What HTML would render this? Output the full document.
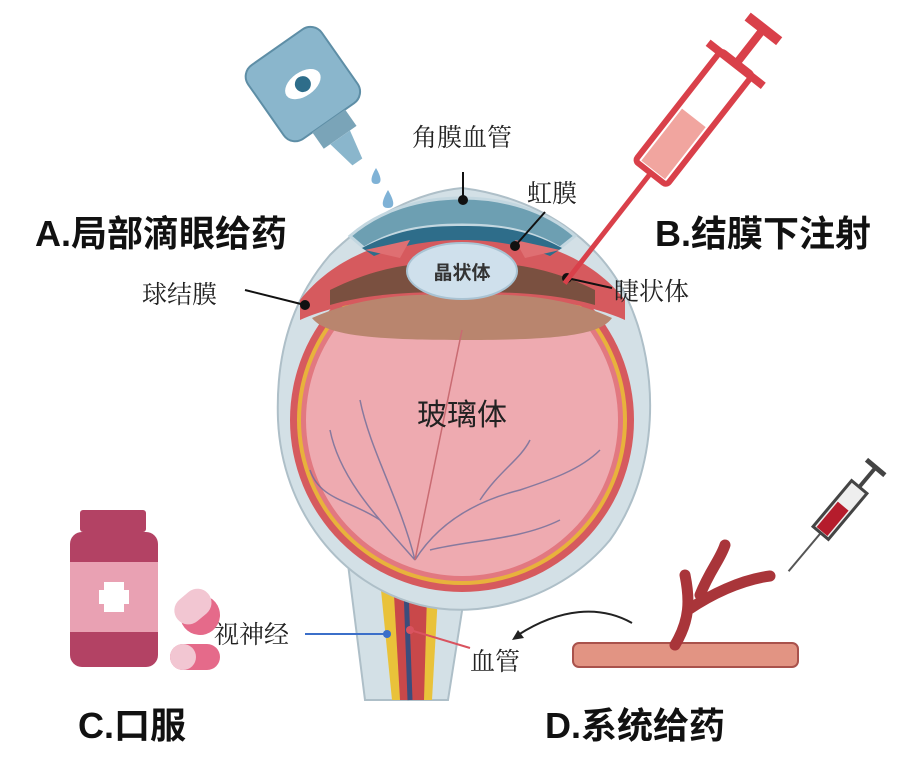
<!DOCTYPE html>
<html><head><meta charset="utf-8"><style>
html,body{margin:0;padding:0;background:#fff}
svg{display:block}
text{font-family:"Liberation Serif","Noto Serif CJK SC",serif}
.b text,text.b{font-family:"Liberation Sans","Noto Sans CJK SC",sans-serif;font-weight:bold}
</style></head><body>
<svg width="918" height="758" viewBox="0 0 918 758" xmlns="http://www.w3.org/2000/svg">
<path d="M345,540 L365,700 L448,700 L470,560 Z" fill="#d3e0e6" stroke="#aebfc8" stroke-width="2"/>
<path d="M378,560 L392,700 L432,700 L440,560 Z" fill="#e9c23a"/>
<path d="M392,560 L400,700 L424,700 L428,560 Z" fill="#c9484a"/>
<line x1="405" y1="560" x2="410" y2="700" stroke="#3c4d7c" stroke-width="5"/>
<path d="M462,188 C540,198 600,240 628,300 C660,370 660,470 610,540 C560,600 480,620 420,605 C340,585 282,510 278,420 C275,340 300,290 330,255 C370,215 420,192 462,188 Z" fill="#d3e0e6" stroke="#aebfc8" stroke-width="2"/>
<circle cx="462" cy="420" r="172" fill="#d65a5e"/>
<circle cx="462" cy="420" r="165" fill="#e8b23c"/>
<circle cx="462" cy="420" r="161" fill="#e27880"/>
<circle cx="462" cy="420" r="156" fill="#eeaab0"/>
<path d="M300,300 C340,250 400,235 462,235 C524,235 585,250 625,300 L625,320 C580,300 520,296 462,296 C404,296 345,300 300,320 Z" fill="#d65a5e"/>
<path d="M312,318 C360,296 420,292 462,296 C504,292 566,296 612,318 C600,335 560,340 462,340 C370,340 325,335 312,318Z" fill="#b9856e"/>
<path d="M330,290 C380,265 420,262 462,262 C504,262 545,265 595,290 L595,305 C550,292 500,292 462,292 C424,292 374,292 330,305Z" fill="#7a5040"/>
<path d="M350,236 C380,210 420,198 462,198 C504,198 545,210 575,236 L560,248 C530,230 500,225 462,225 C424,225 394,230 364,248Z" fill="#6d9fb2" stroke="#c3d7e0" stroke-width="3"/>
<path d="M362,248 C400,228 430,226 462,226 C494,226 526,228 562,248 L550,256 C520,244 490,240 462,240 C434,240 404,244 374,256Z" fill="#2e6d8a"/>
<path d="M365,250 L410,240 L400,258 Z M560,250 L515,240 L525,258 Z" fill="#df6f72"/>
<ellipse cx="462" cy="271" rx="55" ry="28" fill="#cfe0ec" stroke="#a9c3d3" stroke-width="2"/>
<text x="462" y="279" text-anchor="middle" class="b" font-size="19" fill="#333">晶状体</text>
<g fill="none" stroke="#6e6e9a" stroke-width="1.5" opacity="0.8">
<path d="M415,560 C380,520 340,480 330,430"/><path d="M380,520 C350,500 320,500 310,470"/>
<path d="M415,560 C440,520 480,500 520,490 C550,480 580,470 600,450"/><path d="M480,500 C500,470 520,460 530,440"/>
<path d="M415,560 C400,500 370,450 360,400"/><path d="M430,550 C470,540 520,540 560,520"/>
</g>
<line x1="462" y1="330" x2="415" y2="560" stroke="#c96b72" stroke-width="1.5"/>
<text x="462" y="425" text-anchor="middle" font-size="30" fill="#222" style="font-family:'Liberation Sans','Noto Sans CJK SC',sans-serif">玻璃体</text>
<g stroke="#111" stroke-width="2" fill="#111">
<line x1="463" y1="172" x2="463" y2="200"/><circle cx="463" cy="200" r="4"/>
<line x1="545" y1="212" x2="515" y2="246"/><circle cx="515" cy="246" r="4"/>
<line x1="612" y1="288" x2="567" y2="278"/><circle cx="567" cy="278" r="4"/>
<line x1="245" y1="290" x2="305" y2="305"/><circle cx="305" cy="305" r="4"/>
</g>
<line x1="305" y1="634" x2="387" y2="634" stroke="#3b6fc9" stroke-width="2"/><circle cx="387" cy="634" r="4" fill="#3b6fc9"/>
<line x1="410" y1="630" x2="470" y2="648" stroke="#d9535f" stroke-width="2"/><circle cx="410" cy="630" r="4" fill="#d9535f"/>
<g font-size="25" fill="#222">
<text x="412" y="146">角膜血管</text>
<text x="527" y="202">虹膜</text>
<text x="614" y="300">睫状体</text>
<text x="142" y="303">球结膜</text>
<text x="214" y="643">视神经</text>
<text x="470" y="670">血管</text>
</g>
<g class="b" font-size="36" fill="#111">
<text x="35" y="246">A.局部滴眼给药</text>
<text x="655" y="246">B.结膜下注射</text>
<text x="78" y="738">C.口服</text>
<text x="545" y="738">D.系统给药</text>
</g>
<g transform="rotate(-35 300 80)">
<rect x="255" y="40" width="90" height="90" rx="14" fill="#8ab6cc" stroke="#5e8ea6" stroke-width="2"/>
<ellipse cx="300" cy="85" rx="20" ry="12" fill="#fff"/><circle cx="300" cy="85" r="8" fill="#2e6d8a"/>
<rect x="280" y="130" width="40" height="20" fill="#7aa4b8"/>
<path d="M288,150 L312,150 L306,180 L294,180Z" fill="#8ab6cc"/>
</g>
<path d="M376,168 c-6,10 -6,16 0,16 c6,0 6,-6 0,-16z" fill="#7fb2d6"/>
<path d="M388,190 c-7,12 -7,18 0,18 c7,0 7,-6 0,-18z" fill="#7fb2d6"/>
<g transform="rotate(38 700 110)">
<line x1="700" y1="190" x2="700" y2="330" stroke="#d9404a" stroke-width="5"/>
<rect x="680" y="50" width="40" height="140" rx="4" fill="#fff" stroke="#d9404a" stroke-width="6"/>
<rect x="685" y="120" width="30" height="66" fill="#f1a59f"/>
<rect x="665" y="48" width="70" height="8" fill="#d9404a"/>
<line x1="700" y1="48" x2="700" y2="10" stroke="#d9404a" stroke-width="8"/>
<rect x="680" y="2" width="40" height="10" fill="#d9404a"/>
</g>
<g transform="rotate(40 840 510)">
<line x1="840" y1="540" x2="840" y2="590" stroke="#555" stroke-width="2"/>
<rect x="830" y="480" width="20" height="60" fill="#eee" stroke="#444" stroke-width="3"/>
<rect x="833" y="505" width="14" height="33" fill="#b51c2c"/>
<line x1="840" y1="480" x2="840" y2="455" stroke="#444" stroke-width="4"/>
<rect x="828" y="452" width="24" height="5" fill="#444"/>
</g>
<rect x="573" y="643" width="225" height="24" rx="6" fill="#e29483" stroke="#a9524c" stroke-width="2"/>
<path d="M675,645 C690,620 690,600 685,575 M688,610 C710,595 740,580 770,576 M700,595 C710,570 720,560 725,545" stroke="#a9353a" stroke-width="11" fill="none" stroke-linecap="round"/>
<path d="M632,623 C600,605 560,608 518,635" fill="none" stroke="#222" stroke-width="2"/>
<path d="M512,640 l12,-2 l-6,-8z" fill="#222"/>
<rect x="80" y="510" width="66" height="22" rx="3" fill="#b34264"/>
<rect x="70" y="532" width="88" height="135" rx="12" fill="#b34264"/>
<rect x="70" y="562" width="88" height="70" fill="#e9a1b3"/>
<rect x="104" y="582" width="20" height="30" fill="#fff"/><rect x="99" y="590" width="30" height="14" fill="#fff"/>
<g transform="rotate(-40 200 615)"><rect x="180" y="595" width="40" height="40" rx="20" fill="#e56a8a"/><rect x="180" y="590" width="40" height="28" rx="14" fill="#f2c6d2"/></g>
<rect x="170" y="644" width="50" height="26" rx="13" fill="#e56a8a"/><rect x="170" y="644" width="26" height="26" rx="13" fill="#f2c6d2"/>
</svg>
</body></html>
